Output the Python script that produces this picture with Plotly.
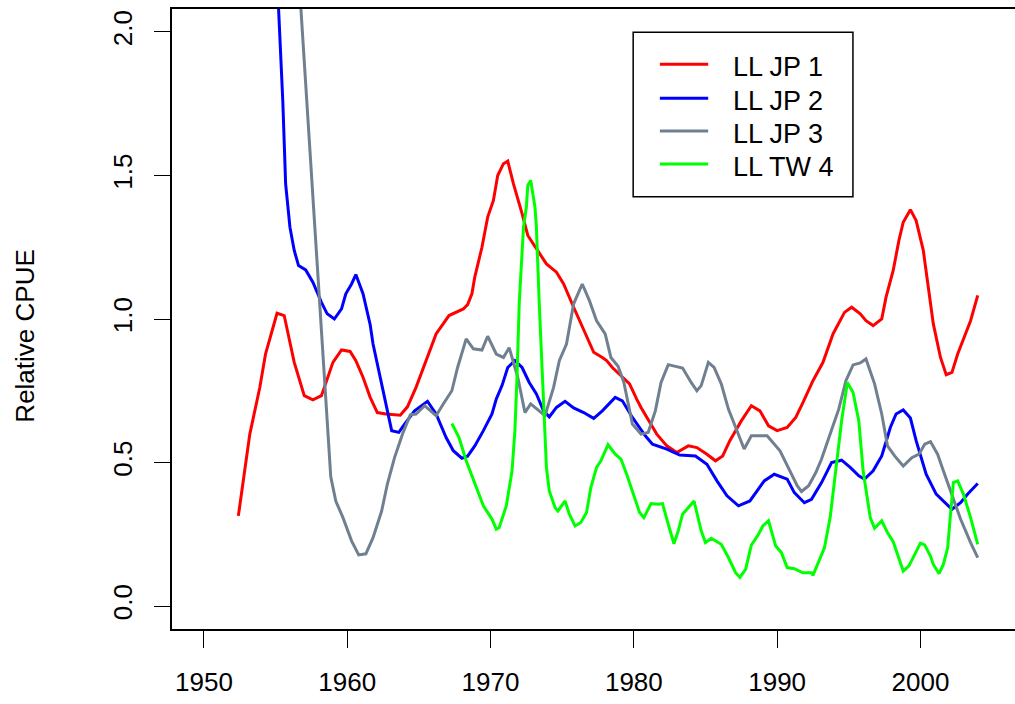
import plotly.graph_objects as go

# Relative CPUE indices by fleet (year, index value)
jp1_year = [1952.4, 1953.2, 1953.9, 1954.3, 1955.1, 1955.6, 1956.3, 1957.0, 1957.6, 1958.2,
            1959.0, 1959.6, 1960.2, 1960.6, 1961.1, 1961.6, 1962.1, 1962.7, 1963.7, 1964.2,
            1964.8, 1965.5, 1966.2, 1967.1, 1968.1, 1968.4, 1968.7, 1968.9, 1969.4, 1969.8,
            1970.2, 1970.5, 1970.9, 1971.2, 1971.6, 1972.2, 1972.6, 1973.2, 1973.9, 1974.6,
            1975.1, 1975.8, 1976.5, 1977.2, 1977.8, 1978.1, 1978.5, 1979.2, 1979.7, 1980.2,
            1980.5, 1981.6, 1982.3, 1983.0, 1983.8, 1984.4, 1985.1, 1985.7, 1986.2, 1986.7,
            1987.5, 1988.2, 1988.8, 1989.4, 1990.0, 1990.7, 1991.3, 1991.8, 1992.5, 1993.2,
            1993.9, 1994.7, 1995.2, 1995.8, 1996.2, 1996.7, 1997.3, 1997.6, 1998.1, 1998.5,
            1998.8, 1999.3, 1999.7, 2000.2, 2000.5, 2000.9, 2001.4, 2001.8, 2002.2, 2002.6,
            2003.5, 2004.0]
jp1_cpue = [0.314, 0.599, 0.762, 0.879, 1.020, 1.012, 0.849, 0.733, 0.718, 0.733,
            0.849, 0.892, 0.887, 0.855, 0.797, 0.727, 0.674, 0.669, 0.665, 0.694,
            0.762, 0.855, 0.948, 1.012, 1.035, 1.050, 1.088, 1.146, 1.250, 1.355,
            1.413, 1.500, 1.541, 1.550, 1.471, 1.367, 1.291, 1.245, 1.192, 1.163,
            1.122, 1.041, 0.960, 0.884, 0.866, 0.855, 0.831, 0.797, 0.774, 0.721,
            0.692, 0.599, 0.558, 0.535, 0.558, 0.552, 0.529, 0.506, 0.523, 0.576,
            0.645, 0.698, 0.680, 0.628, 0.611, 0.622, 0.657, 0.709, 0.785, 0.849,
            0.948, 1.023, 1.041, 1.018, 0.994, 0.977, 1.000, 1.076, 1.169, 1.274,
            1.337, 1.381, 1.343, 1.239, 1.122, 0.983, 0.866, 0.806, 0.814, 0.878,
            0.994, 1.082]

jp2_year = [1954.5, 1955.5, 1955.7, 1956.0, 1956.3, 1956.6, 1957.1, 1957.6, 1958.2, 1958.6,
            1959.1, 1959.6, 1959.9, 1960.3, 1960.6, 1961.1, 1961.6, 1961.8, 1962.1, 1962.5,
            1962.8, 1963.1, 1963.6, 1964.0, 1964.7, 1965.6, 1966.2, 1966.9, 1967.4, 1968.0,
            1968.4, 1968.9, 1969.5, 1970.1, 1970.4, 1970.8, 1971.2, 1971.7, 1972.2, 1972.7,
            1973.2, 1973.7, 1974.1, 1974.6, 1975.2, 1975.8, 1976.5, 1977.2, 1977.8, 1978.7,
            1979.2, 1979.9, 1980.8, 1981.3, 1982.3, 1983.2, 1984.3, 1985.1, 1985.8, 1986.5,
            1987.3, 1988.1, 1989.1, 1989.8, 1990.7, 1991.2, 1991.9, 1992.4, 1993.1, 1993.8,
            1994.5, 1995.1, 1995.7, 1996.1, 1996.7, 1997.3, 1997.9, 1998.3, 1998.8, 1999.3,
            1999.7, 2000.4, 2001.1, 2001.7, 2002.2, 2002.8, 2003.3, 2004.0]
jp2_cpue = [2.850, 1.762, 1.471, 1.320, 1.239, 1.186, 1.171, 1.128, 1.058, 1.018,
            1.000, 1.035, 1.088, 1.122, 1.155, 1.088, 0.980, 0.913, 0.843, 0.750,
            0.669, 0.611, 0.605, 0.634, 0.680, 0.713, 0.669, 0.587, 0.541, 0.515,
            0.522, 0.558, 0.611, 0.669, 0.721, 0.768, 0.831, 0.855, 0.831, 0.779,
            0.739, 0.680, 0.659, 0.692, 0.713, 0.690, 0.674, 0.654, 0.680, 0.727,
            0.715, 0.657, 0.593, 0.564, 0.547, 0.526, 0.523, 0.494, 0.436, 0.384,
            0.349, 0.366, 0.436, 0.459, 0.442, 0.395, 0.360, 0.372, 0.430, 0.500,
            0.508, 0.483, 0.454, 0.442, 0.471, 0.523, 0.622, 0.669, 0.683, 0.655,
            0.576, 0.459, 0.390, 0.360, 0.337, 0.360, 0.390, 0.427]

jp3_year = [1956.0, 1956.86, 1957.3, 1957.68, 1957.98, 1958.19, 1958.36, 1958.58, 1958.73, 1958.85,
            1959.2, 1959.7, 1960.3, 1960.8, 1961.3, 1961.8, 1962.4, 1962.8, 1963.3, 1963.9,
            1964.4, 1964.8, 1965.4, 1966.2, 1966.7, 1967.3, 1967.7, 1968.3, 1968.8, 1969.4,
            1969.8, 1970.4, 1970.9, 1971.3, 1971.9, 1972.4, 1972.8, 1973.4, 1973.8, 1974.4,
            1974.8, 1975.3, 1975.8, 1976.4, 1976.9, 1977.4, 1978.0, 1978.4, 1978.9, 1979.3,
            1979.9, 1980.5, 1981.0, 1981.5, 1981.9, 1982.4, 1983.1, 1983.4, 1984.0, 1984.4,
            1984.7, 1985.2, 1985.6, 1986.1, 1986.6, 1987.2, 1987.7, 1988.2, 1989.3, 1990.2,
            1990.8, 1991.4, 1991.7, 1992.2, 1992.7, 1993.1, 1993.7, 1994.3, 1994.8, 1995.3,
            1995.8, 1996.2, 1996.8, 1997.3, 1997.7, 1998.2, 1998.8, 1999.4, 1999.9, 2000.3,
            2000.7, 2001.2, 2001.6, 2002.2, 2002.8, 2003.5, 2004.0]
jp3_cpue = [2.680, 2.000, 1.648, 1.355, 1.125, 0.962, 0.833, 0.659, 0.544, 0.450,
            0.366, 0.308, 0.227, 0.178, 0.182, 0.238, 0.331, 0.425, 0.517, 0.605,
            0.666, 0.669, 0.698, 0.663, 0.704, 0.750, 0.831, 0.931, 0.896, 0.892,
            0.940, 0.878, 0.866, 0.900, 0.797, 0.674, 0.704, 0.680, 0.663, 0.762,
            0.855, 0.913, 1.053, 1.122, 1.064, 0.994, 0.948, 0.866, 0.835, 0.780,
            0.634, 0.599, 0.605, 0.680, 0.779, 0.841, 0.831, 0.829, 0.779, 0.750,
            0.768, 0.849, 0.831, 0.774, 0.686, 0.611, 0.547, 0.593, 0.593, 0.541,
            0.477, 0.419, 0.399, 0.419, 0.465, 0.512, 0.599, 0.686, 0.785, 0.840,
            0.847, 0.861, 0.774, 0.669, 0.558, 0.523, 0.488, 0.517, 0.529, 0.564,
            0.573, 0.529, 0.471, 0.390, 0.303, 0.221, 0.169]

tw4_year = [1967.3, 1967.8, 1968.3, 1968.9, 1969.5, 1970.1, 1970.4, 1970.6, 1971.1, 1971.5,
            1971.7, 1971.85, 1972.0, 1972.3, 1972.5, 1972.6, 1972.8, 1973.1, 1973.2, 1973.4,
            1973.7, 1973.8, 1973.9, 1974.1, 1974.5, 1974.7, 1975.2, 1975.5, 1975.9, 1976.3,
            1976.7, 1977.0, 1977.4, 1977.7, 1978.2, 1978.7, 1979.1, 1979.5, 1979.9, 1980.4,
            1980.7, 1981.2, 1981.7, 1982.0, 1982.4, 1982.8, 1983.1, 1983.4, 1983.7, 1984.2,
            1984.7, 1985.0, 1985.4, 1986.1, 1986.6, 1987.1, 1987.4, 1987.8, 1988.2, 1988.7,
            1989.0, 1989.4, 1989.9, 1990.3, 1990.7, 1991.2, 1991.8, 1992.4, 1992.5, 1992.9,
            1993.3, 1993.7, 1994.1, 1994.5, 1994.9, 1995.3, 1995.7, 1996.0, 1996.5, 1996.8,
            1997.3, 1997.7, 1998.1, 1998.5, 1998.8, 1999.2, 1999.6, 2000.0, 2000.3, 2000.7,
            2000.9, 2001.3, 2001.6, 2001.9, 2002.1, 2002.3, 2002.6, 2003.0, 2003.5, 2004.0]
tw4_cpue = [0.636, 0.587, 0.506, 0.430, 0.349, 0.303, 0.268, 0.273, 0.349, 0.471,
            0.611, 0.800, 1.053, 1.320, 1.390, 1.465, 1.483, 1.390, 1.320, 1.053,
            0.715, 0.611, 0.483, 0.401, 0.343, 0.331, 0.366, 0.320, 0.279, 0.291,
            0.326, 0.413, 0.483, 0.506, 0.562, 0.529, 0.512, 0.459, 0.401, 0.326,
            0.308, 0.357, 0.355, 0.357, 0.285, 0.217, 0.262, 0.320, 0.337, 0.366,
            0.262, 0.221, 0.236, 0.215, 0.169, 0.116, 0.100, 0.128, 0.212, 0.250,
            0.279, 0.297, 0.209, 0.186, 0.134, 0.130, 0.116, 0.116, 0.107, 0.157,
            0.203, 0.308, 0.471, 0.645, 0.779, 0.744, 0.645, 0.471, 0.308, 0.271,
            0.297, 0.256, 0.224, 0.163, 0.122, 0.140, 0.180, 0.219, 0.213, 0.174,
            0.145, 0.113, 0.145, 0.203, 0.320, 0.430, 0.436, 0.390, 0.308, 0.215]

series_names = ["LL JP 1", "LL JP 2", "LL JP 3", "LL TW 4"]
series_colors = ["#ff0000", "#0000ff", "#708090", "#00ff00"]
series_x = [jp1_year, jp2_year, jp3_year, tw4_year]
series_y = [jp1_cpue, jp2_cpue, jp3_cpue, tw4_cpue]

x_ticks = [1950, 1960, 1970, 1980, 1990, 2000]
y_ticks = [0.0, 0.5, 1.0, 1.5, 2.0]
y_tick_text = ["0.0", "0.5", "1.0", "1.5", "2.0"]

FONT = "Liberation Sans, Arial, Helvetica, sans-serif"

fig = go.Figure()
for name, color, xs, ys in zip(series_names, series_colors, series_x, series_y):
    fig.add_trace(go.Scatter(x=xs, y=ys, mode="lines", name=name,
                             line=dict(color=color, width=3), showlegend=False))

# Legend box drawn in paper coordinates (top-right inside the plot)
W, H = 842.7, 620.0
L, T = 172.3, 9.0


def px_x(p):
    return (p - L) / W


def px_y(p):
    return (T + H - p) / H


shapes = [dict(type="rect", xref="paper", yref="paper",
               x0=px_x(633.3), x1=px_x(853.0), y0=px_y(196.7), y1=px_y(32.3),
               line=dict(color="black", width=1.5), fillcolor="white", layer="above")]
annotations = []
legend_rows = [64.3, 98.3, 131.0, 164.0]
for name, color, row in zip(series_names, series_colors, legend_rows):
    shapes.append(dict(type="line", xref="paper", yref="paper",
                       x0=px_x(660), x1=px_x(708.3), y0=px_y(row), y1=px_y(row),
                       line=dict(color=color, width=3), layer="above"))
    annotations.append(dict(text=name, xref="paper", yref="paper",
                            x=px_x(731), y=px_y(row + 3), xanchor="left", yanchor="middle",
                            showarrow=False, font=dict(family=FONT, size=27, color="black")))

annotations.append(dict(text="Relative CPUE", xref="paper", yref="paper",
                        x=px_x(25), y=px_y(336), xanchor="center", yanchor="middle",
                        textangle=-90, showarrow=False,
                        font=dict(family=FONT, size=26, color="black")))

fig.update_layout(
    width=1015, height=704,
    margin=dict(l=172, r=0, t=9, b=75, pad=0),
    paper_bgcolor="white", plot_bgcolor="white",
    font=dict(family=FONT, size=26, color="black"),
    shapes=shapes, annotations=annotations,
    xaxis=dict(range=[1947.77, 2006.6], tickmode="array", tickvals=x_ticks,
               ticks="outside", ticklen=17, tickwidth=1.3, tickcolor="black",
               showline=True, linecolor="black", linewidth=1.5, mirror=True,
               showgrid=False, zeroline=False, ticklabelstandoff=12,
               tickfont=dict(family=FONT, size=26, color="black")),
    yaxis=dict(range=[-0.08, 2.08], tickmode="array", tickvals=y_ticks, ticktext=y_tick_text,
               ticks="outside", ticklen=16, tickwidth=1.3, tickcolor="black",
               showline=True, linecolor="black", linewidth=1.5, mirror=False,
               showgrid=False, zeroline=False, tickangle=-90, ticklabelstandoff=12,
               tickfont=dict(family=FONT, size=26, color="black")),
)

fig.write_html("out.html")
